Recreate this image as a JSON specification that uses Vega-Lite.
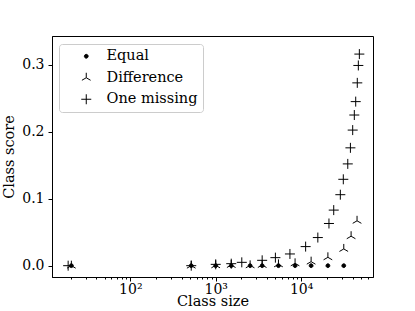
{
  "$schema": "https://vega.github.io/schema/vega-lite/v6.json",
  "width": 321,
  "height": 241,
  "autosize": {"type": "none"},
  "padding": {"left": 52, "top": 36, "right": 42, "bottom": 34},
  "background": "white",
  "config": {
    "font": "DejaVu Serif",
    "view": {"stroke": "black", "strokeWidth": 1},
    "axis": {
      "grid": false,
      "domainColor": "black",
      "tickColor": "black",
      "labelColor": "black",
      "titleColor": "black",
      "labelFont": "DejaVu Serif",
      "titleFont": "DejaVu Serif",
      "titleFontWeight": "normal",
      "labelFontSize": 14,
      "titleFontSize": 14.5,
      "labelFlush": false,
      "labelBound": false,
      "labelOverlap": false
    },
    "legend": {
      "orient": "none",
      "legendX": 7,
      "legendY": 8,
      "padding": 5,
      "symbolOffset": 15,
      "labelOffset": 13,
      "rowPadding": 6.5,
      "labelFont": "DejaVu Serif",
      "labelFontSize": 14.5,
      "labelColor": "black",
      "strokeColor": "#cccccc",
      "fillColor": "rgba(255,255,255,0.8)",
      "cornerRadius": 3,
      "symbolStrokeWidth": 1,
      "symbolSize": 100
    }
  },
  "data": {
    "values": [
      {"series": "Equal", "size": 20.4, "score": 0},
      {"series": "Equal", "size": 517, "score": 0},
      {"series": "Equal", "size": 1000, "score": 0},
      {"series": "Equal", "size": 1520, "score": 0},
      {"series": "Equal", "size": 2530, "score": 0},
      {"series": "Equal", "size": 3500, "score": 0},
      {"series": "Equal", "size": 5430, "score": 0},
      {"series": "Equal", "size": 8500, "score": 0},
      {"series": "Equal", "size": 13100, "score": 0},
      {"series": "Equal", "size": 20600, "score": 0},
      {"series": "Equal", "size": 31600, "score": 0},
      {"series": "Difference", "size": 20.4, "score": 0},
      {"series": "Difference", "size": 517, "score": 0},
      {"series": "Difference", "size": 1000, "score": 0.0005},
      {"series": "Difference", "size": 1520, "score": 0.001},
      {"series": "Difference", "size": 2530, "score": 0.0005},
      {"series": "Difference", "size": 3500, "score": 0.001},
      {"series": "Difference", "size": 5430, "score": 0.002},
      {"series": "Difference", "size": 8500, "score": 0.0035},
      {"series": "Difference", "size": 13100, "score": 0.006},
      {"series": "Difference", "size": 20600, "score": 0.0125},
      {"series": "Difference", "size": 31600, "score": 0.025},
      {"series": "Difference", "size": 38500, "score": 0.044},
      {"series": "Difference", "size": 45200, "score": 0.067},
      {"series": "One missing", "size": 18.7, "score": 0},
      {"series": "One missing", "size": 517, "score": 0},
      {"series": "One missing", "size": 1000, "score": 0.002},
      {"series": "One missing", "size": 1520, "score": 0.003},
      {"series": "One missing", "size": 2020, "score": 0.005},
      {"series": "One missing", "size": 3500, "score": 0.008},
      {"series": "One missing", "size": 5000, "score": 0.012},
      {"series": "One missing", "size": 7400, "score": 0.0175},
      {"series": "One missing", "size": 11300, "score": 0.0285},
      {"series": "One missing", "size": 15700, "score": 0.042},
      {"series": "One missing", "size": 21200, "score": 0.063},
      {"series": "One missing", "size": 24100, "score": 0.083},
      {"series": "One missing", "size": 28800, "score": 0.106},
      {"series": "One missing", "size": 31200, "score": 0.129},
      {"series": "One missing", "size": 35200, "score": 0.152},
      {"series": "One missing", "size": 37800, "score": 0.176},
      {"series": "One missing", "size": 40200, "score": 0.2025},
      {"series": "One missing", "size": 42000, "score": 0.225},
      {"series": "One missing", "size": 43600, "score": 0.245},
      {"series": "One missing", "size": 45500, "score": 0.273},
      {"series": "One missing", "size": 46800, "score": 0.299},
      {"series": "One missing", "size": 48100, "score": 0.316}
    ]
  },
  "mark": {"type": "point", "filled": false, "strokeWidth": 1, "size": 100, "opacity": 1},
  "encoding": {
    "x": {
      "field": "size",
      "type": "quantitative",
      "scale": {"type": "log", "domain": [12.1, 69500], "nice": false},
      "axis": {
        "title": "Class size",
        "values": [20, 30, 40, 50, 60, 70, 80, 90, 100, 200, 300, 400, 500, 600, 700, 800, 900, 1000, 2000, 3000, 4000, 5000, 6000, 7000, 8000, 9000, 10000, 20000, 30000, 40000, 50000, 60000],
        "labelExpr": "datum.value == 100 ? '10²' : datum.value == 1000 ? '10³' : datum.value == 10000 ? '10⁴' : ''",
        "tickSize": {"condition": {"test": "datum.value == 100 || datum.value == 1000 || datum.value == 10000", "value": 4}, "value": 2},
        "labelPadding": 1,
        "titlePadding": -2
      }
    },
    "y": {
      "field": "score",
      "type": "quantitative",
      "scale": {"domain": [-0.0169, 0.343], "nice": false, "zero": false},
      "axis": {
        "title": "Class score",
        "values": [0, 0.1, 0.2, 0.3],
        "format": ".1f",
        "tickSize": 4,
        "labelPadding": 4,
        "titlePadding": 5
      }
    },
    "shape": {
      "field": "series",
      "type": "nominal",
      "scale": {
        "domain": ["Equal", "Difference", "One missing"],
        "range": [
          "M0.38,0A0.38,0.38 0 1,1 -0.38,0A0.38,0.38 0 1,1 0.38,0Z",
          "M0,-1L0,0M0,0L-0.866,0.5M0,0L0.866,0.5",
          "M-1,0L1,0M0,-1L0,1"
        ]
      },
      "legend": {"title": null}
    },
    "stroke": {
      "field": "series",
      "type": "nominal",
      "scale": {"domain": ["Equal", "Difference", "One missing"], "range": ["black", "black", "black"]},
      "legend": {"title": null}
    },
    "fill": {
      "field": "series",
      "type": "nominal",
      "scale": {"domain": ["Equal", "Difference", "One missing"], "range": ["black", "transparent", "transparent"]},
      "legend": {"title": null}
    }
  }
}
